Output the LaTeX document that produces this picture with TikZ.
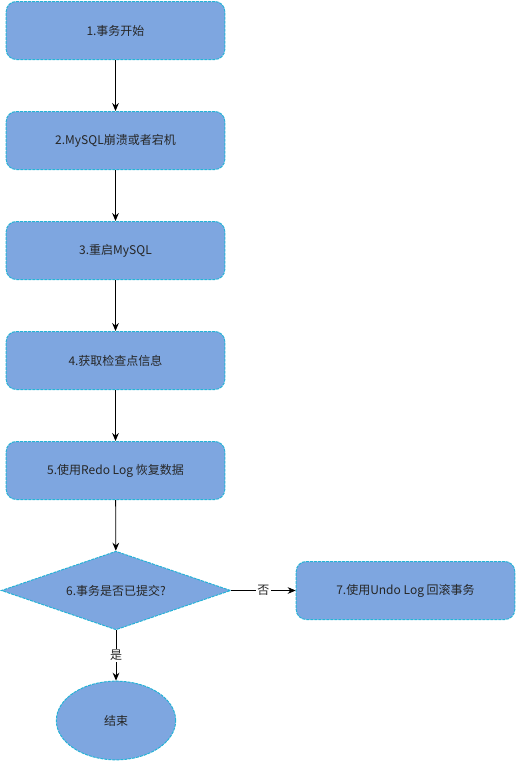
\documentclass[tikz,border=0pt]{standalone}
\usepackage{fontspec}
\setmainfont{Noto Sans CJK SC}
\usetikzlibrary{shapes.geometric,arrows.meta}
\definecolor{boxfill}{HTML}{7EA6E0}
\definecolor{boxline}{HTML}{24B3D6}
\begin{document}
\begin{tikzpicture}[x=0.75pt, y=-0.75pt,
    every node/.style={font=\fontsize{9}{11}\selectfont, text=black!85},
    dashline/.style={draw=boxline, fill=boxfill, line width=0.75pt, dash pattern=on 2.25pt off 0.75pt},
    stepbox/.style={dashline, rounded corners=7.5pt,
        minimum width=164pt, minimum height=43.5pt, inner sep=0pt},
    decision/.style={dashline, diamond, aspect=2.9,
        minimum width=172pt, minimum height=59pt, inner sep=0pt},
    finish/.style={dashline, ellipse,
        minimum width=89.5pt, minimum height=59pt, inner sep=0pt},
    flow/.style={-{Stealth[length=6pt,width=5pt]}, black, line width=0.6pt},
    tag/.style={fill=white, inner sep=1pt}]
    \useasboundingbox (0,0) rectangle (516,761);
    \node[stepbox] (s1) at (115.5,30.5) {1.事务开始};
    \node[stepbox] (s2) at (115.5,140.5) {2.MySQL崩溃或者宕机};
    \node[stepbox] (s3) at (115.5,250.5) {3.重启MySQL};
    \node[stepbox] (s4) at (115.5,360.5) {4.获取检查点信息};
    \node[stepbox] (s5) at (115.5,470.5) {5.使用Redo Log 恢复数据};
    \node[decision] (s6) at (116,590.5) {6.事务是否已提交?};
    \node[stepbox] (s7) at (405.5,590.5) {7.使用Undo Log 回滚事务};
    \node[finish] (end) at (116,720.5) {结束};
    \draw[flow] (s1) -- (s2);
    \draw[flow] (s2) -- (s3);
    \draw[flow] (s3) -- (s4);
    \draw[flow] (s4) -- (s5);
    \draw[flow] (s5) -- (s6);
    \draw[flow] (s6) -- node[tag] {否} (s7);
    \draw[flow] (s6) -- node[tag] {是} (end);
\end{tikzpicture}
\end{document}
